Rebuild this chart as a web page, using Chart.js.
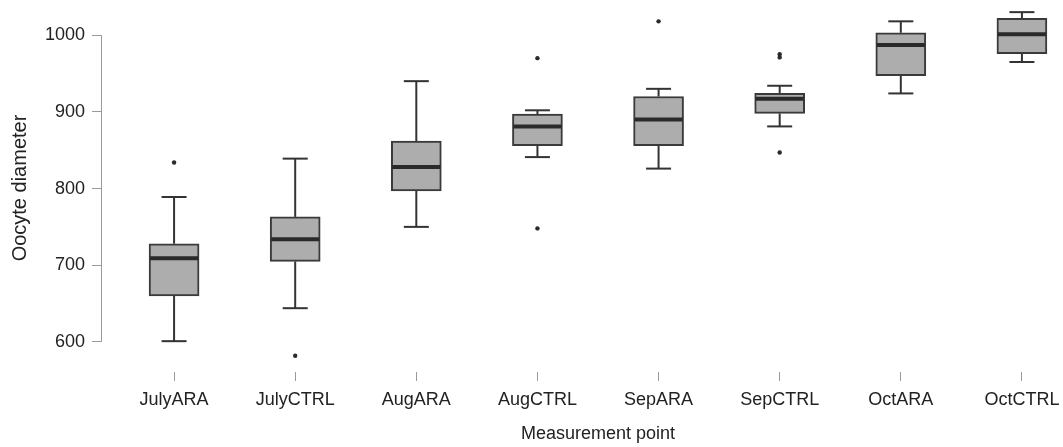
<!DOCTYPE html>
<html>
<head>
<meta charset="utf-8">
<title>Oocyte diameter</title>
<script src="https://cdn.jsdelivr.net/npm/chart.js@4"></script>
<style>
  html, body { margin: 0; padding: 0; background: #fff; overflow: hidden; }
  /* plot runs a little past the right edge of the window */
  #wrap { width: 1099px; height: 447px; }
</style>
</head>
<body>
<div id="wrap"><canvas id="grafica"></canvas></div>
<script>
// measurement points and box statistics
const categories = ["JulyARA", "JulyCTRL", "AugARA", "AugCTRL", "SepARA", "SepCTRL", "OctARA", "OctCTRL"];
const whiskerLow = [601, 644, 750, 841, 826, 881, 924, 965];
const q1 = [660, 705, 797, 856, 856, 898, 947, 976];
const median = [709, 734, 828, 881, 890, 917, 987, 1001];
const q3 = [728, 763, 862, 897, 920, 924, 1003, 1022];
const whiskerHigh = [789, 839, 940, 902, 930, 934, 1018, 1030];
const outliers = [[834], [582], [], [970, 748], [1018], [975, 971, 847], [], []];
const yTicks = [600, 700, 800, 900, 1000];

const font = "'Liberation Sans', Arial, Helvetica, sans-serif";
const textColor = "#222222";
const axisGray = "#9a9a9a";

const boxData = categories.map((c, i) => ({ x: i + 1, y: [q1[i], q3[i]] }));
const outlierData = [];
outliers.forEach((vals, i) => vals.forEach(v => outlierData.push({ x: i + 1, y: v })));

// whiskers behind the boxes, medians on top, y axis line only between first and last tick
const boxParts = {
  id: "boxParts",
  beforeDatasetsDraw(chart) {
    const { ctx } = chart;
    const y = chart.scales.y;
    const bars = chart.getDatasetMeta(0).data;
    ctx.save();
    ctx.strokeStyle = "#333333";
    ctx.lineWidth = 2;
    bars.forEach((bar, i) => {
      const half = bar.width / 4;
      const pts = [[whiskerLow[i], q1[i]], [q3[i], whiskerHigh[i]]];
      pts.forEach(([a, b]) => {
        ctx.beginPath();
        ctx.moveTo(bar.x, y.getPixelForValue(a));
        ctx.lineTo(bar.x, y.getPixelForValue(b));
        ctx.stroke();
      });
      [whiskerLow[i], whiskerHigh[i]].forEach(v => {
        const py = y.getPixelForValue(v);
        ctx.beginPath();
        ctx.moveTo(bar.x - half, py);
        ctx.lineTo(bar.x + half, py);
        ctx.stroke();
      });
    });
    ctx.restore();
  },
  afterDatasetsDraw(chart) {
    const { ctx, chartArea } = chart;
    const y = chart.scales.y;
    const bars = chart.getDatasetMeta(0).data;
    ctx.save();
    ctx.strokeStyle = "#2a2a2a";
    ctx.lineWidth = 4;
    bars.forEach((bar, i) => {
      const py = y.getPixelForValue(median[i]);
      ctx.beginPath();
      ctx.moveTo(bar.x - bar.width / 2 + 1, py);
      ctx.lineTo(bar.x + bar.width / 2 - 1, py);
      ctx.stroke();
    });
    ctx.strokeStyle = axisGray;
    ctx.lineWidth = 1;
    ctx.beginPath();
    ctx.moveTo(chartArea.left + 0.5, y.getPixelForValue(yTicks[0]));
    ctx.lineTo(chartArea.left + 0.5, y.getPixelForValue(yTicks[yTicks.length - 1]));
    ctx.stroke();
    ctx.restore();
  }
};

const ctx = document.getElementById("grafica");

new Chart(ctx, {
  type: "bar",
  data: {
    datasets: [
      {
        type: "bar",
        data: boxData,
        backgroundColor: "#adadad",
        borderColor: "#3a3a3a",
        borderWidth: 2,
        borderSkipped: false,
        barThickness: 50
      },
      {
        type: "scatter",
        data: outlierData,
        backgroundColor: "#2a2a2a",
        borderColor: "#2a2a2a",
        pointRadius: 2.2,
        borderWidth: 0
      }
    ]
  },
  options: {
    responsive: true,
    maintainAspectRatio: false,
    animation: false,
    layout: { padding: { top: 3, right: 0, bottom: 0, left: 0 } },
    plugins: {
      legend: { display: false },
      tooltip: { enabled: false }
    },
    scales: {
      x: {
        type: "linear",
        offset: false,
        min: 0.3967,
        max: 8.6033,
        afterFit(scale) {
          scale.height = 75;
          scale.paddingLeft = 0;
          scale.paddingRight = 0;
        },
        afterBuildTicks(scale) { scale.ticks = categories.map((c, i) => ({ value: i + 1 })); },
        border: { display: false },
        grid: { offset: false, drawOnChartArea: false, drawTicks: true, tickLength: 9, color: axisGray },
        ticks: {
          autoSkip: false,
          maxRotation: 0,
          padding: 8,
          color: textColor,
          font: { family: font, size: 18 },
          callback: (v) => categories[v - 1]
        },
        title: {
          display: true,
          text: "Measurement point",
          color: textColor,
          font: { family: font, size: 18 },
          padding: { top: 0, bottom: 2 }
        }
      },
      y: {
        min: 560.8,
        max: 1040.6,
        afterFit(scale) {
          scale.width = 101;
          scale.paddingTop = 0;
          scale.paddingBottom = 0;
        },
        afterBuildTicks(scale) { scale.ticks = yTicks.map(v => ({ value: v })); },
        border: { display: false },
        grid: { drawOnChartArea: false, drawTicks: true, tickLength: 9, color: axisGray },
        ticks: {
          padding: 7,
          color: textColor,
          font: { family: font, size: 18 },
          callback: (v) => String(v)
        },
        title: {
          display: true,
          text: "Oocyte diameter",
          color: textColor,
          font: { family: font, size: 20 },
          padding: { top: 8, bottom: 0 }
        }
      }
    }
  },
  plugins: [boxParts]
});
</script>
</body>
</html>
